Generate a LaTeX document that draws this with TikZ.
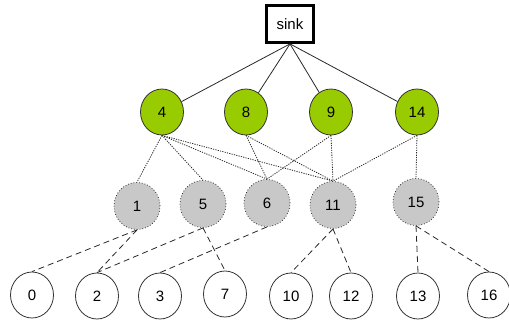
\documentclass[tikz,border=0pt]{standalone}
\usepackage{fontspec}
\setmainfont{Liberation Sans}
\usetikzlibrary{shapes.geometric}
\definecolor{leaf}{RGB}{153,204,0}
\definecolor{relay}{RGB}{200,200,200}
\definecolor{edge}{RGB}{40,40,40}
\begin{document}
\begin{tikzpicture}[x=1pt,y=-1pt,
  every node/.style={font=\fontsize{15}{17}\selectfont, inner sep=0pt},
  sinkbox/.style={draw=black, line width=2.8pt, rectangle, minimum width=47pt, minimum height=37pt, fill=white},
  greennode/.style={ellipse, draw=black!80, line width=0.8pt, fill=leaf, minimum width=43pt, minimum height=46pt},
  graynode/.style={ellipse, draw=black!80, line width=0.8pt, dotted, fill=relay, minimum width=46pt, minimum height=47pt},
  whitenode/.style={ellipse, draw=black!80, line width=0.8pt, fill=white, minimum width=43pt, minimum height=46pt},
  solidedge/.style={draw=edge, line width=0.8pt},
  dotedge/.style={draw=edge, line width=0.8pt, dash pattern=on 1.2pt off 1.2pt},
  dashedge/.style={draw=edge, line width=0.8pt, dash pattern=on 6pt off 4pt}]
\useasboundingbox (0,0) rectangle (509,324);
% nodes
\node[sinkbox] (sink) at (290,24) {sink};
\node[greennode] (g4) at (162,112) {4};
\node[greennode] (g8) at (246,112) {8};
\node[greennode] (g9) at (331,112) {9};
\node[greennode] (g14) at (417,112) {14};
\node[graynode] (n1) at (137,206) {1};
\node[graynode] (n5) at (203,204) {5};
\node[graynode] (n6) at (267,203) {6};
\node[graynode] (n11) at (333,205) {11};
\node[graynode] (n15) at (416,202) {15};
\node[whitenode] (w0) at (32,295) {0};
\node[whitenode] (w2) at (97,296) {2};
\node[whitenode] (w3) at (160,296) {3};
\node[whitenode] (w7) at (225,294) {7};
\node[whitenode] (w10) at (291,296) {10};
\node[whitenode] (w12) at (351,296) {12};
\node[whitenode] (w13) at (418,296) {13};
\node[whitenode] (w16) at (489,295) {16};
% edges
\foreach \g in {g4,g8,g9,g14} \draw[solidedge] (sink.south) -- (\g);
\foreach \a/\b in {g4/n1,g4/n5,g4/n6,g4/n11,g8/n6,g8/n11,g9/n6,g9/n11,g14/n11,g14/n15}
  \draw[dotedge] (\a.south) -- (\b.north);
\foreach \a/\b in {n1/w0,n1/w2,n5/w2,n5/w7,n6/w3,n11/w10,n11/w12,n15/w13,n15/w16}
  \draw[dashedge] (\a.south) -- (\b.north);
\end{tikzpicture}
\end{document}
